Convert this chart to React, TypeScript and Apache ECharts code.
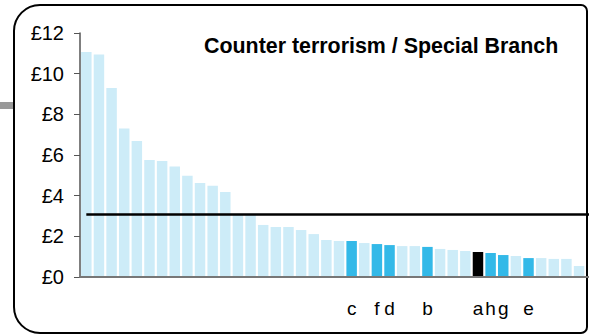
import React, { useEffect, useRef } from "react";
import * as echarts from "echarts";

const values = [
  11.07, 10.94, 9.3, 7.3, 6.69, 5.75, 5.7, 5.43, 4.98, 4.62, 4.49, 4.18, 3.05, 3.05,
  2.56, 2.46, 2.46, 2.31, 2.11, 1.82, 1.77, 1.77, 1.67, 1.62, 1.57, 1.52, 1.52, 1.48,
  1.38, 1.33, 1.28, 1.23, 1.18, 1.08, 1.03, 0.93, 0.93, 0.89, 0.89, 0.54,
];
const labels = [
  "", "", "", "", "", "", "", "", "", "", "", "", "", "",
  "", "", "", "", "", "", "", "c", "", "f", "d", "", "", "b",
  "", "", "", "a", "h", "g", "", "e", "", "", "", "",
];
const averageValue = 3.1;
const yTicks = [0, 2, 4, 6, 8, 10, 12];

const LIGHT = "#cdecf8";
const BLUE = "#33b9e8";
const BLACK = "#000000";

export default function App() {
  const ref = useRef<HTMLDivElement>(null);
  useEffect(() => {
    if (!ref.current) return;
    const chart = echarts.init(ref.current, undefined, { renderer: "svg" });
    const font = "'Liberation Sans', Arial, sans-serif";
    // one extra empty slot at the right: the original chart is cropped there
    const categories = [...labels, ""];
    chart.setOption({
      animation: false,
      textStyle: { fontFamily: font },
      title: {
        text: "Counter terrorism / Special Branch",
        left: 199,
        top: 30,
        textStyle: { fontSize: 21.4, fontWeight: "bold", color: "#000", fontFamily: font },
      },
      graphic: [
        {
          type: "rect",
          shape: { x: 14, y: 5, width: 573, height: 328, r: [26, 6, 6, 26] },
          style: { fill: "none", stroke: "#000", lineWidth: 2 },
          z: -1,
        },
        {
          type: "rect",
          shape: { x: 0, y: 102, width: 13, height: 7 },
          style: { fill: "#999" },
        },
      ],
      grid: { left: 80, top: 33, width: 518, bottom: 59, containLabel: false },
      xAxis: {
        type: "category",
        data: categories,
        boundaryGap: true,
        axisLine: { show: true, lineStyle: { color: "#777", width: 2 } },
        axisTick: { show: false },
        axisLabel: {
          interval: 0,
          fontSize: 19,
          color: "#000",
          margin: 22,
          fontFamily: font,
        },
        z: 5,
      },
      yAxis: {
        type: "value",
        min: yTicks[0],
        max: yTicks[yTicks.length - 1],
        interval: 2,
        splitLine: { show: false },
        axisLine: { show: true, lineStyle: { color: "#555", width: 1.5 } },
        axisTick: { show: true, length: 6, lineStyle: { color: "#555" } },
        axisLabel: {
          formatter: "£{value}",
          fontSize: 20,
          color: "#000",
          margin: 16,
          fontFamily: font,
        },
      },
      series: [
        {
          type: "bar",
          barCategoryGap: "17%",
          data: values.map((v, i) => ({
            value: v,
            itemStyle: {
              color: labels[i] === "a" ? BLACK : labels[i] ? BLUE : LIGHT,
            },
          })),
          markLine: {
            silent: true,
            symbol: "none",
            z: 10,
            label: { show: false },
            lineStyle: { color: "#000", width: 2.5, type: "solid" },
            data: [
              [
                { coord: [0, averageValue] },
                { coord: [categories.length - 1, averageValue] },
              ],
            ],
          },
        },
      ],
    });
    return () => chart.dispose();
  }, []);
  return (
    <div style={{ width: 589, height: 336, position: "absolute", left: 0, top: 0, overflow: "hidden" }}>
      <div ref={ref} style={{ width: 600, height: 336 }} />
    </div>
  );
}
